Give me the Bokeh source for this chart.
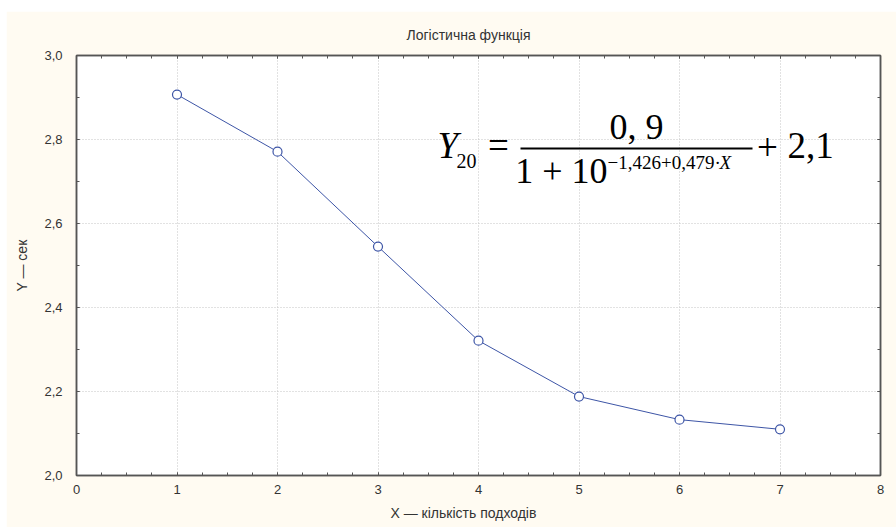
from bokeh.plotting import figure
from bokeh.models import FixedTicker, LinearAxis, Range1d, Title, Spacer
from bokeh.layouts import column, row
from bokeh.core.properties import value
from bokeh.embed import file_html
from bokeh.resources import INLINE

# ---- data ----
x_vals = [1, 2, 3, 4, 5, 6, 7]
y_vals = [2.907, 2.771, 2.545, 2.321, 2.188, 2.133, 2.110]

x_ticks = [0, 1, 2, 3, 4, 5, 6, 7, 8]
x_tick_labels = ["0", "1", "2", "3", "4", "5", "6", "7", "8"]
x_minor = [i * 0.25 for i in range(33)]
y_ticks = [2.0, 2.2, 2.4, 2.6, 2.8, 3.0]
y_tick_labels = ["2,0", "2,2", "2,4", "2,6", "2,8", "3,0"]
y_minor = [round(2.0 + i * 0.1, 1) for i in range(11)]

title_text = "Логістична функція"
x_label_text = "X — кількість подходів"
y_label_text = "Y — сек"

f_lhs = "Y"
f_sub = "20"
f_eq = "="
f_num = "0, 9"
f_den = "1 + 10"
f_exp = "−1,426+0,479·"
f_exp_x = "X"
f_plus = "+"
f_const = "2,1"

# ---- figure ----
X0, X1, Y0, Y1 = 0, 8, 2.0, 3.0
fig = figure(width=890, height=516, x_range=Range1d(X0, X1), y_range=Range1d(Y0, Y1),
             output_backend="svg", toolbar_location=None,
             min_border_left=70, min_border_right=16, min_border_top=44, min_border_bottom=52)
fig.background_fill_color = "white"
fig.border_fill_color = "#FFFBF2"
fig.outline_line_color = "#555555"
fig.outline_line_width = 1.5

xt = FixedTicker(ticks=x_ticks, minor_ticks=x_minor)
yt = FixedTicker(ticks=y_ticks, minor_ticks=y_minor)

bottom_axis = fig.below[0]
left_axis = fig.left[0]
bottom_axis.ticker = xt
left_axis.ticker = yt
bottom_axis.major_label_overrides = {t: l for t, l in zip(x_ticks, x_tick_labels)}
left_axis.major_label_overrides = {t: l for t, l in zip(y_ticks, y_tick_labels)}

top_axis = LinearAxis(ticker=xt, major_label_overrides={t: "" for t in x_ticks})
right_axis = LinearAxis(ticker=yt, major_label_overrides={t: "" for t in y_ticks})
fig.add_layout(top_axis, "above")
fig.add_layout(right_axis, "right")

for ax in [bottom_axis, left_axis, top_axis, right_axis]:
    ax.axis_line_color = "#555555"
    ax.axis_line_width = 1.5
    ax.major_tick_in = 3
    ax.major_tick_out = 0
    ax.minor_tick_in = 3
    ax.minor_tick_out = 0
    ax.major_tick_line_color = "#555555"
    ax.minor_tick_line_color = "#555555"
    ax.major_label_text_font = "Liberation Sans"
    ax.major_label_text_font_size = "13px"
    ax.major_label_text_color = "#333333"

top_axis.major_label_standoff = 0
right_axis.major_label_standoff = 0
bottom_axis.major_label_standoff = 9
left_axis.major_label_standoff = 14

left_axis.axis_label = y_label_text
left_axis.axis_label_text_font = "Liberation Sans"
left_axis.axis_label_text_font_size = "14px"
left_axis.axis_label_text_font_style = "normal"
left_axis.axis_label_text_color = "#333333"
left_axis.axis_label_standoff = 11

fig.xgrid.ticker = xt
fig.ygrid.ticker = yt
for g in [fig.xgrid[0], fig.ygrid[0]]:
    g.grid_line_color = "#C4C4C4"
    g.grid_line_dash = "1 2"
    g.grid_line_width = 1

# ---- titles ----
fig.title = Title(text=title_text, align="left", offset=330, standoff=25,
                  text_font="Liberation Sans", text_font_size="14px",
                  text_font_style="normal", text_color="#333333")
fig.add_layout(Title(text=x_label_text, align="left", offset=314, standoff=13,
                     text_font="Liberation Sans", text_font_size="14px",
                     text_font_style="normal", text_color="#333333"), "below")

# ---- series ----
blue = "#3D55A6"
fig.line(x_vals, y_vals, line_color=blue, line_width=1)
fig.scatter(x_vals, y_vals, marker="circle", size=9, fill_color="white",
            line_color=blue, line_width=1.2)


# page-pixel -> data helpers for annotation placement (frame: x 76..880, y 55..475)
def dx(px):
    return X0 + (px - 76) * (X1 - X0) / 804.0


def dy(py):
    return Y0 + (475 - py) * (Y1 - Y0) / 420.0


# ---- formula ----
serif = value("Liberation Serif")


def t(px, py, s, size, align="left", style="normal"):
    fig.text(x=[dx(px)], y=[dy(py)], text=[s], text_font=serif,
             text_font_size=f"{size}px", text_align=align, text_baseline="middle",
             text_font_style=style, text_color="black")


t(437, 144.5, f_lhs, 37, style="italic")
t(456, 160, f_sub, 20)
t(498, 145, f_eq, 37, align="center")
fig.segment(x0=[dx(520)], y0=[dy(148)], x1=[dx(752)], y1=[dy(148)],
            line_color="black", line_width=1.8)
t(636, 126.5, f_num, 36, align="center")
t(607, 170, f_den, 36, align="right")
t(607, 161.5, f_exp, 19)
t(719, 161.5, f_exp_x, 19, style="italic")
t(767, 147, f_plus, 37, align="center")
t(787, 144.5, f_const, 37)

p = column(Spacer(width=896, height=11), row(Spacer(width=6, height=516), fig))

open("out.html", "w").write(file_html(p, INLINE))
